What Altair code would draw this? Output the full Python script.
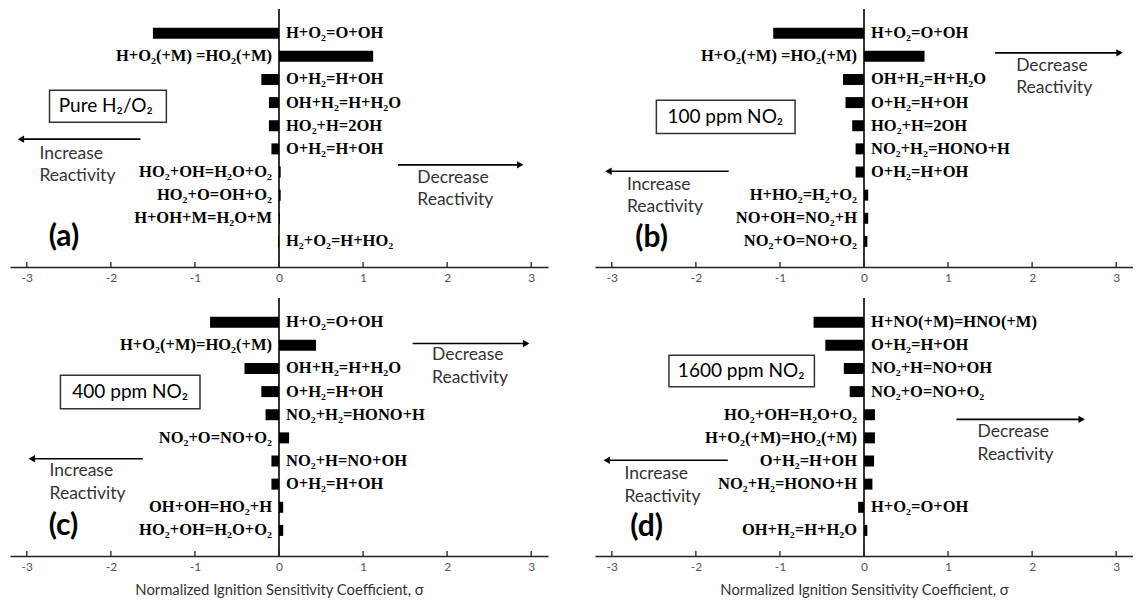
import altair as alt
import pandas as pd

# ---------------- data ----------------
a_labels = ["H+O₂=O+OH", "H+O₂(+M) =HO₂(+M)", "O+H₂=H+OH", "OH+H₂=H+H₂O", "HO₂+H=2OH",
            "O+H₂=H+OH", "HO₂+OH=H₂O+O₂", "HO₂+O=OH+O₂", "H+OH+M=H₂O+M", "H₂+O₂=H+HO₂"]
a_values = [-1.50, 1.12, -0.21, -0.12, -0.12, -0.09, 0.02, 0.02, 0.01, -0.01]

b_labels = ["H+O₂=O+OH", "H+O₂(+M) =HO₂(+M)", "OH+H₂=H+H₂O", "O+H₂=H+OH", "HO₂+H=2OH",
            "NO₂+H₂=HONO+H", "O+H₂=H+OH", "H+HO₂=H₂+O₂", "NO+OH=NO₂+H", "NO₂+O=NO+O₂"]
b_values = [-1.08, 0.72, -0.25, -0.22, -0.14, -0.10, -0.10, 0.05, 0.05, 0.04]

c_labels = ["H+O₂=O+OH", "H+O₂(+M)=HO₂(+M)", "OH+H₂=H+H₂O", "O+H₂=H+OH", "NO₂+H₂=HONO+H",
            "NO₂+O=NO+O₂", "NO₂+H=NO+OH", "O+H₂=H+OH", "OH+OH=HO₂+H", "HO₂+OH=H₂O+O₂"]
c_values = [-0.82, 0.44, -0.41, -0.21, -0.16, 0.12, -0.09, -0.09, 0.05, 0.05]

d_labels = ["H+NO(+M)=HNO(+M)", "O+H₂=H+OH", "NO₂+H=NO+OH", "NO₂+O=NO+O₂", "HO₂+OH=H₂O+O₂",
            "H+O₂(+M)=HO₂(+M)", "O+H₂=H+OH", "NO₂+H₂=HONO+H", "H+O₂=O+OH", "OH+H₂=H+H₂O"]
d_values = [-0.60, -0.46, -0.24, -0.17, 0.13, 0.13, 0.12, 0.10, -0.07, 0.04]

panel_titles = ["Pure H₂/O₂", "100 ppm NO₂", "400 ppm NO₂", "1600 ppm NO₂"]
panel_letters = ["(a)", "(b)", "(c)", "(d)"]
tick_values = [-3, -2, -1, 0, 1, 2, 3]
x_title = "Normalized Ignition Sensitivity Coefficient, σ"

# annotation placement (data coordinates: sigma, row index)
ann = [
    dict(box=(-2.73, -1.34, 3.47, 4.85), boxtext=(-2.06, 4.16),
         larrow=(-3.07, -1.65, 5.58), inc=(-2.85, 6.21), rarrow=(1.415, 2.87, 6.69),
         dec=(1.645, 7.25), letter=(-2.74, 9.80)),
    dict(box=(-2.47, -0.82, 3.90, 5.34), boxtext=(-1.65, 4.62),
         larrow=(-3.04, -1.61, 6.97), inc=(-2.82, 7.55), rarrow=(1.56, 3.04, 1.85),
         dec=(1.81, 2.40), letter=(-2.72, 9.85)),
    dict(box=(-2.60, -0.94, 3.29, 4.74), boxtext=(-1.77, 4.02),
         larrow=(-2.94, -1.62, 6.90), inc=(-2.73, 7.44), rarrow=(1.59, 2.94, 1.92),
         dec=(1.82, 2.43), letter=(-2.74, 9.80)),
    dict(box=(-2.32, -0.59, 2.43, 3.79), boxtext=(-1.46, 3.11),
         larrow=(-3.06, -1.62, 6.97), inc=(-2.85, 7.58), rarrow=(1.10, 2.59, 5.20),
         dec=(1.35, 5.75), letter=(-2.78, 9.85)),
]

W, H = 538, 258
XDOM = [-3.2, 3.2]
YDOM = [0.17, 10.89]
ROW_STEP = 0.98
SERIF = "Liberation Serif"
SANS = "Lato"


def panel(labels, values, idx, bottom):
    a = ann[idx]
    xs = alt.Scale(domain=XDOM, nice=False, zero=False)
    ys = alt.Scale(domain=YDOM, nice=False, zero=False, reverse=True)
    df = pd.DataFrame({"row": list(range(1, len(labels) + 1)), "label": labels,
                       "v": values, "z": [0.0] * len(labels)})
    axis_kw = dict(values=tick_values, ticks=False, grid=False, domainColor="#222",
                   domainWidth=1.6, labelFont=SANS, labelFontSize=12, labelColor="#555",
                   labelPadding=5, labelExpr="'' + datum.value")
    if bottom:
        axis_kw.update(title=x_title, titleFont=SANS, titleFontSize=14.8,
                       titleFontWeight="normal", titleColor="#333", titlePadding=10)
    else:
        axis_kw.update(title=None)
    xa = alt.Axis(**axis_kw)

    def X(field):
        return alt.X(field, scale=xs, axis=xa)

    def Y(field):
        return alt.Y(field, scale=ys, axis=None)

    base = alt.Chart(df)
    bars = base.mark_bar(orient="horizontal", size=11, color="black").encode(
        x=X("v:Q"), x2="z:Q", y=Y("row:Q"))
    neg = base.transform_filter("datum.v < 0").mark_text(
        font=SERIF, fontWeight="bold", fontSize=16.5, align="left", baseline="middle",
        dx=7, color="black").encode(x=X("z:Q"), y=Y("row:Q"), text="label:N")
    pos = base.transform_filter("datum.v >= 0").mark_text(
        font=SERIF, fontWeight="bold", fontSize=16.5, align="right", baseline="middle",
        dx=-7, color="black").encode(x=X("z:Q"), y=Y("row:Q"), text="label:N")
    zero = alt.Chart(pd.DataFrame({"z": [0.0]})).mark_rule(color="black", strokeWidth=1.6).encode(
        x=X("z:Q"), y=alt.value(0), y2=alt.value(H))
    ticks = alt.Chart(pd.DataFrame({"t": tick_values})).mark_rule(color="#222", strokeWidth=1.3).encode(
        x=X("t:Q"), y=alt.value(H - 5), y2=alt.value(H))

    bx = a["box"]
    box = alt.Chart(pd.DataFrame({"x": [bx[0]], "x2": [bx[1]], "y": [bx[2]], "y2": [bx[3]]})).mark_rect(
        fillOpacity=0, stroke="#333", strokeWidth=1.5).encode(
        x=X("x:Q"), x2="x2:Q", y=Y("y:Q"), y2="y2:Q")
    bt = a["boxtext"]
    boxtext = alt.Chart(pd.DataFrame({"x": [bt[0]], "y": [bt[1]], "t": [panel_titles[idx]]})).mark_text(
        font=SANS, fontSize=19, color="black", align="center", baseline="middle").encode(
        x=X("x:Q"), y=Y("y:Q"), text="t:N")

    la, ra = a["larrow"], a["rarrow"]
    arr = pd.DataFrame({"x": [la[0], ra[0]], "x2": [la[1], ra[1]], "y": [la[2], ra[2]]})
    lines = alt.Chart(arr).mark_rule(color="black", strokeWidth=1.6).encode(
        x=X("x:Q"), x2="x2:Q", y=Y("y:Q"))
    heads_df = pd.DataFrame({"x": [la[0], ra[1]], "y": [la[2], ra[2]],
                             "shape": ["triangle-left", "triangle-right"]})
    heads = alt.Chart(heads_df).mark_point(filled=True, size=55, color="black", opacity=1).encode(
        x=X("x:Q"), y=Y("y:Q"), shape=alt.Shape("shape:N", scale=None))

    inc, dec = a["inc"], a["dec"]
    words = pd.DataFrame({
        "x": [inc[0], inc[0], dec[0], dec[0]],
        "y": [inc[1], inc[1] + ROW_STEP, dec[1], dec[1] + ROW_STEP],
        "t": ["Increase", "Reactivity", "Decrease", "Reactivity"]})
    wtext = alt.Chart(words).mark_text(font=SANS, fontSize=17.5, color="#333", align="left",
                                       baseline="middle").encode(
        x=X("x:Q"), y=Y("y:Q"), text="t:N")

    lt = a["letter"]
    letter = alt.Chart(pd.DataFrame({"x": [lt[0]], "y": [lt[1]], "t": [panel_letters[idx]]})).mark_text(
        font=SANS, fontSize=30, fontWeight="bold", color="black", align="left", baseline="middle").encode(
        x=X("x:Q"), y=Y("y:Q"), text="t:N")

    return alt.layer(bars, zero, ticks, neg, pos, box, boxtext, lines, heads, wtext, letter).properties(
        width=W, height=H)


pa = panel(a_labels, a_values, 0, False)
pb = panel(b_labels, b_values, 1, False)
pc = panel(c_labels, c_values, 2, True)
pd_ = panel(d_labels, d_values, 3, True)

chart = alt.vconcat(
    alt.hconcat(pa, pb, spacing=47),
    alt.hconcat(pc, pd_, spacing=47),
    spacing=14,
).properties(
    padding={"left": 10, "top": 8, "right": 0, "bottom": 6},
    background="white",
).configure_view(stroke=None)

chart.save("out.html", embed_options={"renderer": "svg", "actions": False})
